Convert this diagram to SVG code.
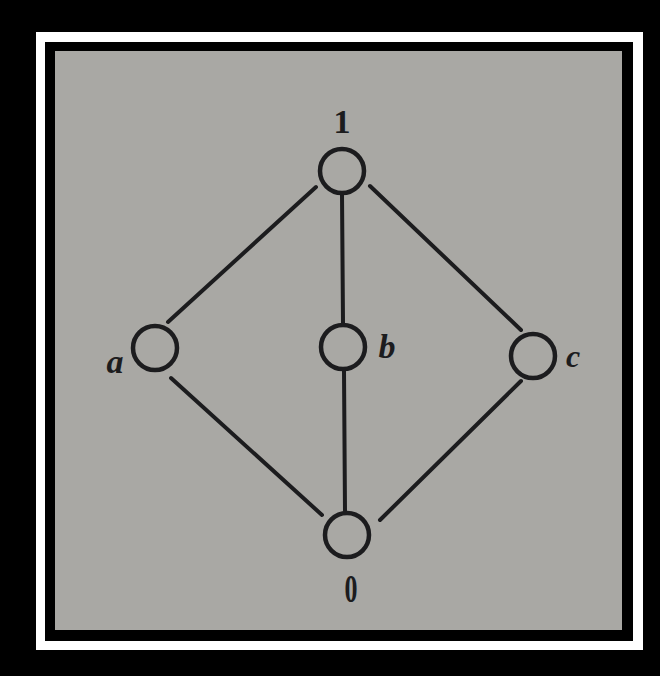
<svg xmlns="http://www.w3.org/2000/svg" width="660" height="676" viewBox="0 0 660 676">
<style>
.node circle{fill:none;stroke:#1c1c1e;stroke-width:4.5}
.lbl{font-family:"Liberation Serif",serif;font-weight:bold;fill:#1c1c1e}
.it{font-style:italic}
#edges line{stroke:#1c1c1e;stroke-width:4;stroke-linecap:round}
</style>
<rect x="0" y="0" width="660" height="676" fill="#000"/>
<rect x="36" y="32" width="607" height="618" fill="#fff"/>
<rect x="45" y="42" width="588" height="599" fill="#000"/>
<rect x="55" y="51" width="567" height="579" fill="#a9a8a4"/>
<g id="edges">
<line x1="316" y1="187" x2="168" y2="322"/>
<line x1="342" y1="194" x2="343" y2="323"/>
<line x1="370" y1="186" x2="521" y2="330"/>
<line x1="171" y1="378" x2="322" y2="515"/>
<line x1="344" y1="371" x2="345" y2="511"/>
<line x1="521" y1="381" x2="380" y2="520"/>
</g>
<g id="n1" class="node"><circle cx="342" cy="171" r="22"/><text class="lbl" x="342" y="133" font-size="34" text-anchor="middle">1</text></g>
<g id="na" class="node"><circle cx="155" cy="348" r="22"/><text class="lbl it" x="115" y="373" font-size="34" text-anchor="middle">a</text></g>
<g id="nb" class="node"><circle cx="343" cy="347" r="22"/><text class="lbl it" x="387" y="358" font-size="34" text-anchor="middle">b</text></g>
<g id="nc" class="node"><circle cx="533" cy="356" r="22"/><text class="lbl it" x="573" y="367" font-size="32" text-anchor="middle">c</text></g>
<g id="n0" class="node"><circle cx="347" cy="535" r="22"/><text class="lbl" x="351" y="602" font-size="40" text-anchor="middle" transform="translate(351 0) scale(0.65 1) translate(-351 0)">0</text></g>
</svg>
